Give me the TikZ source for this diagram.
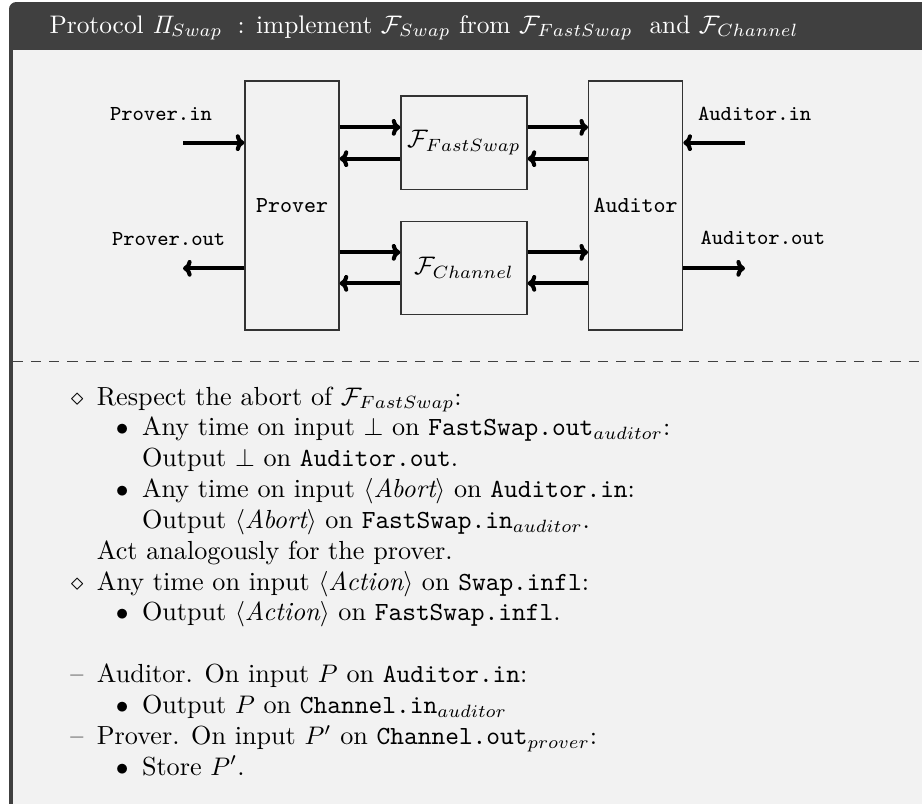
\documentclass[tikz,border=0pt]{standalone}
\usetikzlibrary{arrows.meta}

\definecolor{framegray}{HTML}{404040}
\definecolor{backgray}{HTML}{F2F2F2}

\tikzset{
  bodytext/.style={inner sep=0pt, anchor=base west, font=\fontsize{10.3}{12.4}\selectfont},
  itemmark/.style={inner sep=0pt, anchor=base east, font=\fontsize{10.3}{12.4}\selectfont},
  party/.style={draw=black!80, line width=0.5pt, minimum width=37pt, minimum height=98pt,
                inner sep=0pt, font=\fontsize{9}{11}\selectfont\ttfamily},
  func/.style={draw=black!80, line width=0.5pt, minimum width=49.6pt, minimum height=36.7pt,
               inner sep=0pt},
  port/.style={inner sep=0pt, anchor=base west, font=\fontsize{8.4}{10}\selectfont\ttfamily},
  flow/.style={line width=1.6pt, -{Computer Modern Rightarrow[length=3.4pt,width=6.6pt]}},
}

\begin{document}
\begin{tikzpicture}[x=0.3937pt, y=-0.3937pt]
  \useasboundingbox (0,0) rectangle (922,803);
  \clip (0,0) rectangle (922,803);

  % box: dark frame with title bar, light body
  \fill[white] (0,0) rectangle (922,803);
  \fill[framegray, rounded corners=2.83pt] (9,815) -- (9,2) -- (940,2) -- (940,815) -- cycle;
  \fill[backgray] (12.6,50) rectangle (940,815);

  % title
  \node[inner sep=0pt, anchor=base west, text=white, font=\fontsize{10}{12}\selectfont] (title) at (49,33)
    {Protocol $\mathit{\Pi}_{Swap}$\hspace{6pt}: implement $\mathcal{F}_{Swap}$ from $\mathcal{F}_{FastSwap}$\ \ and $\mathcal{F}_{Channel}$};

  % parties and functionalities
  \node[party] (prover) at (292,205.5) {Prover};
  \node[func]  (fs)     at (464,142.7) {$\mathcal{F}_{FastSwap}$};
  \node[func]  (ch)     at (464,268)   {$\mathcal{F}_{Channel}$};
  \node[party] (aud)    at (635.7,205.5) {Auditor};

  % levels of the connectors and free ends of the outer ports
  \coordinate (up1) at (0,127.3);
  \coordinate (up2) at (0,158.7);
  \coordinate (lo1) at (0,252.3);
  \coordinate (lo2) at (0,283.3);
  \coordinate (pin)  at (183,142.7);
  \coordinate (pout) at (183,268.3);
  \coordinate (ain)  at (745,142.7);
  \coordinate (aout) at (745,268.3);

  % outer ports
  \draw[flow] (pin) -- (prover.west |- pin);
  \draw[flow] (prover.west |- pout) -- (pout);
  \draw[flow] (ain) -- (aud.east |- ain);
  \draw[flow] (aud.east |- aout) -- (aout);

  % prover <-> functionalities
  \draw[flow] (prover.east |- up1) -- (fs.west |- up1);
  \draw[flow] (fs.west |- up2) -- (prover.east |- up2);
  \draw[flow] (prover.east |- lo1) -- (ch.west |- lo1);
  \draw[flow] (ch.west |- lo2) -- (prover.east |- lo2);

  % functionalities <-> auditor
  \draw[flow] (fs.east |- up1) -- (aud.west |- up1);
  \draw[flow] (aud.west |- up2) -- (fs.east |- up2);
  \draw[flow] (ch.east |- lo1) -- (aud.west |- lo1);
  \draw[flow] (aud.west |- lo2) -- (ch.east |- lo2);

  % port labels
  \node[port] (pinlabel)  at (109.5,120.7) {Prover.in};
  \node[port] (poutlabel) at (111.5,245)   {Prover.out};
  \node[port] (ainlabel)  at (697.5,120.7) {Auditor.in};
  \node[port] (aoutlabel) at (700,244.3)   {Auditor.out};

  % separation between upper and lower part
  \draw[framegray, line width=0.4pt, dash pattern=on 4pt off 3.2pt] (12.6,361) -- (922,361);

  % lower part: the protocol steps
  \node[itemmark] (m1)  at (84,405)     {$\diamond$};
  \node[bodytext] (t1)  at (96.4,405)   {Respect the abort of $\mathcal{F}_{FastSwap}$:};
  \node[itemmark] (m2)  at (129,435.8)  {$\bullet$};
  \node[bodytext] (t2)  at (141.5,435.8) {Any time on input $\bot$ on \texttt{FastSwap.out}$_{auditor}$:};
  \node[bodytext] (t3)  at (141.5,466.7) {Output $\bot$ on \texttt{Auditor.out}.};
  \node[itemmark] (m4)  at (129,497.5)  {$\bullet$};
  \node[bodytext] (t4)  at (141.5,497.5) {Any time on input $\langle\textit{Abort}\rangle$ on \texttt{Auditor.in}:};
  \node[bodytext] (t5)  at (141.5,528.3) {Output $\langle\textit{Abort}\rangle$ on \texttt{FastSwap.in}$_{auditor}$.};
  \node[bodytext] (t6)  at (96.4,559.2) {Act analogously for the prover.};
  \node[itemmark] (m7)  at (84,590)     {$\diamond$};
  \node[bodytext] (t7)  at (96.4,590)   {Any time on input $\langle\textit{Action}\rangle$ on \texttt{Swap.infl}:};
  \node[itemmark] (m8)  at (129,620.8)  {$\bullet$};
  \node[bodytext] (t8)  at (141.5,620.8) {Output $\langle\textit{Action}\rangle$ on \texttt{FastSwap.infl}.};
  \node[itemmark] (m9)  at (84,682.5)   {--};
  \node[bodytext] (t9)  at (96.4,682.5) {Auditor. On input $P$ on \texttt{Auditor.in}:};
  \node[itemmark] (m10) at (129,713.3)  {$\bullet$};
  \node[bodytext] (t10) at (141.5,713.3) {Output $P$ on \texttt{Channel.in}$_{auditor}$};
  \node[itemmark] (m11) at (84,744.2)   {--};
  \node[bodytext] (t11) at (96.4,744.2) {Prover. On input $P'$ on \texttt{Channel.out}$_{prover}$:};
  \node[itemmark] (m12) at (129,775)    {$\bullet$};
  \node[bodytext] (t12) at (141.5,775)  {Store $P'$.};
\end{tikzpicture}
\end{document}
